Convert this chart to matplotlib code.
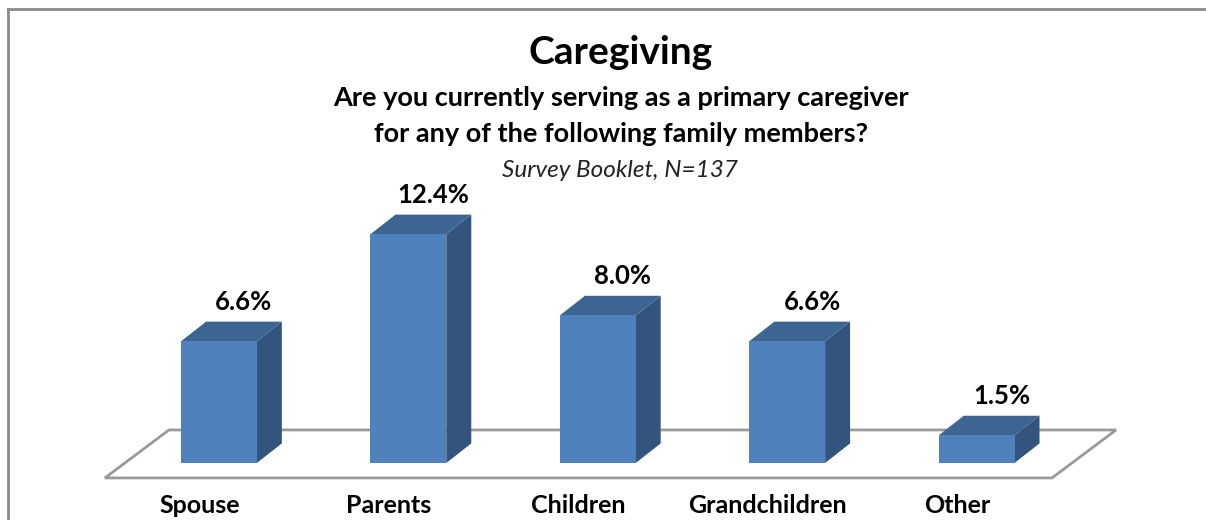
import matplotlib.pyplot as plt
from matplotlib.patches import Rectangle, Polygon
from matplotlib.lines import Line2D

# survey results
categories = ['Spouse', 'Parents', 'Children', 'Grandchildren', 'Other']
percent = [6.6, 12.4, 8.0, 6.6, 1.5]

FRONT = '#4f81bd'
TOP = '#3d6592'
SIDE = '#33547c'
EDGE = '#9a9a9a'

plt.rcParams['font.family'] = ['Lato', 'DejaVu Sans']

fig = plt.figure(figsize=(12.06, 5.2), dpi=100)
ax = fig.add_axes([0, 0, 1, 1])
ax.set_xlim(-1.156, 5.211)
ax.set_ylim(-3.09, 25.09)
ax.axis('off')

w = 0.40      # bar width (category units)
dx = 0.132    # depth offset, x
dy = 1.06     # depth offset, y

# floor of the 3d plot
fl_front, fl_back = -0.81, 1.79
fl_left, fl_right = -0.602, 4.398
fl_dx = 0.338
floor = Polygon([(fl_left, fl_front), (fl_right, fl_front),
                 (fl_right + fl_dx, fl_back), (fl_left + fl_dx, fl_back)],
                closed=True, facecolor='white', edgecolor=EDGE, lw=2, zorder=1)
ax.add_patch(floor)

for i, (cat, v) in enumerate(zip(categories, percent)):
    x0, x1 = i - w / 2, i + w / 2
    ax.add_patch(Polygon([(x1, 0), (x1 + dx, dy), (x1 + dx, v + dy), (x1, v)],
                         closed=True, facecolor=SIDE, edgecolor='none', zorder=3))
    ax.add_patch(Polygon([(x0, v), (x1, v), (x1 + dx, v + dy), (x0 + dx, v + dy)],
                         closed=True, facecolor=TOP, edgecolor='none', zorder=3))
    ax.add_patch(Rectangle((x0, 0), w, v, facecolor=FRONT, edgecolor='none', zorder=4))
    ax.text(i + dx, v + dy + 0.65, f'{v:.1f}%', ha='center', va='baseline',
            fontsize=18.5, fontweight='bold', color='black', zorder=5)
    ax.text(i - 0.103, -2.7, cat, ha='center', va='baseline',
            fontsize=18, fontweight='bold', color='black')

# titles
fig.text(0.515, 1 - 64 / 520, 'Caregiving', ha='center', va='baseline',
         fontsize=28, fontweight='bold')
fig.text(0.515, 1 - 106 / 520, 'Are you currently serving as a primary caregiver',
         ha='center', va='baseline', fontsize=19.5, fontweight='bold')
fig.text(0.515, 1 - 142 / 520, 'for any of the following family members?',
         ha='center', va='baseline', fontsize=19.5, fontweight='bold')
fig.text(0.514, 1 - 177 / 520, 'Survey Booklet, N=137', ha='center', va='baseline',
         fontsize=17.5, style='italic', color='#222222')

# chart border
fig.add_artist(Line2D([8 / 1206, 8 / 1206], [0, 1 - 9 / 520], color='#8a8a8a', lw=2))
fig.add_artist(Line2D([8 / 1206, 1], [1 - 9 / 520, 1 - 9 / 520], color='#8a8a8a', lw=2))

fig.savefig('out.png', dpi=100)
